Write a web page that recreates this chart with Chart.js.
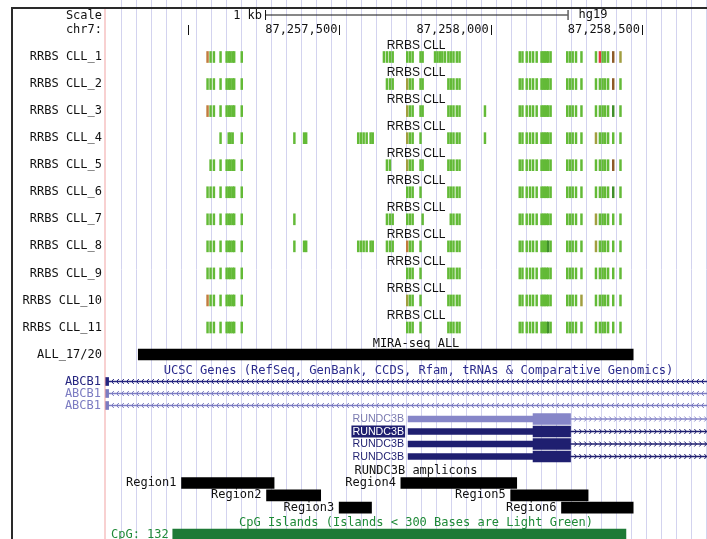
<!DOCTYPE html>
<html>
<head>
<meta charset="utf-8">
<script src="https://cdn.jsdelivr.net/npm/chart.js@4/dist/chart.umd.min.js"></script>
<style>
  html, body { margin: 0; padding: 0; background: #fff; }
  #c { display: block; }
</style>
</head>
<body>
<canvas id="c" width="707" height="539"></canvas>
<script>
// window shown on chr7 (hg19)
const viewStart = 87256725;
const viewEnd = 87258715;
const positionTicks = [87257000, 87257500, 87258000, 87258500];
const positionLabels = ['', '87,257,500', '87,258,000', '87,258,500'];
const scaleBar = [87257254, 87258254];

const sampleNames = ['RRBS CLL_1', 'RRBS CLL_2', 'RRBS CLL_3', 'RRBS CLL_4', 'RRBS CLL_5', 'RRBS CLL_6',
  'RRBS CLL_7', 'RRBS CLL_8', 'RRBS CLL_9', 'RRBS CLL_10', 'RRBS CLL_11'];

// CpG sites covered by RRBS
const cpgSites = [
  87257064, 87257074, 87257085, 87257107, 87257127, 87257134, 87257140, 87257147, 87257152, 87257177,
  87257351, 87257383, 87257390,
  87257562, 87257571, 87257580, 87257590, 87257603, 87257610,
  87257647, 87257657, 87257667, 87257676, 87257724, 87257733, 87257742, 87257768, 87257775,
  87257816, 87257824, 87257832, 87257840, 87257849, 87257860, 87257868, 87257877, 87257888, 87257897, 87257981,
  87258096, 87258105, 87258119, 87258130, 87258140, 87258152, 87258168, 87258174, 87258179, 87258185, 87258190, 87258198,
  87258253, 87258262, 87258271, 87258282, 87258300,
  87258348, 87258361, 87258370, 87258378, 87258388, 87258405, 87258416, 87258429
];

// methylation % per site, null = not covered
const _ = null;
const cll1 = [55,0,0,0,0,0,0,0,0,0, _,_,_, _,_,_,_,_,_,
  0,0,0,0, 0,0,0, 0,0, 0,0,0,0,0, 0,0,0,0,0, _,
  0,0,0,0,0,0,0,0,0,0,0,0, 0,0,0,0,0, 0,100,0,0,0,70,_,45];
const cll2 = [0,0,0,0,0,0,0,0,0,0, _,_,_, _,_,_,_,_,_,
  _,0,0,0, 45,0,0, 0,0, _,_,_,_,_, 0,0,0,0,0, _,
  0,0,0,0,0,0,0,0,0,0,0,0, 0,0,0,0,0, 0,0,0,0,0,75,_,0];
const cll3 = [55,0,0,0,0,0,0,0,0,0, _,_,_, _,_,_,_,_,_,
  _,_,_,_, 45,0,0, 0,0, _,_,_,_,_, 0,0,0,0,0, 0,
  0,0,0,0,0,0,0,0,0,0,0,0, 0,0,0,0,0, 0,0,0,0,0,25,_,0];
const cll4 = [_,_,_,0,_,0,0,0,_,0, 0,0,0, 0,0,0,0,0,0,
  _,_,_,_, 45,0,0, 0,_, _,_,_,_,_, 0,0,0,0,0, 0,
  0,0,0,0,0,0,0,0,0,0,0,0, 0,0,0,0,0, 45,0,0,0,0,0,_,0];
const cll5 = [_,0,0,0,0,0,0,0,0,0, _,_,_, _,_,_,_,_,_,
  _,0,0,_, 45,0,0, 0,0, _,_,_,_,_, 0,0,0,0,0, _,
  0,0,0,0,0,0,0,0,0,0,0,0, 0,0,0,0,0, 0,0,0,0,0,75,_,0];
const cll6 = [0,0,0,0,0,0,0,0,0,0, _,_,_, _,_,_,_,_,_,
  _,_,_,_, 0,0,0, 0,_, _,_,_,_,_, 0,0,0,0,0, _,
  0,0,0,0,0,0,0,0,0,0,0,0, 0,0,0,0,0, 0,0,0,0,0,25,_,0];
const cll7 = [0,0,0,0,0,0,0,0,0,0, 0,_,_, _,_,_,_,_,_,
  _,0,0,0, 0,0,0, _,0, _,_,_,_,_, _,0,0,0,0, _,
  0,0,0,0,0,0,0,0,0,0,0,0, 0,0,0,0,0, 45,0,0,0,0,0,_,0];
const cll8 = [0,0,0,0,0,0,0,0,0,0, 0,0,0, 0,0,0,0,0,0,
  _,0,0,0, 55,0,0, 0,_, _,_,_,_,_, 0,0,0,0,0, _,
  0,0,0,0,0,0,0,0,0,0,25,0, 0,0,0,0,0, 45,0,0,0,0,0,_,0];
const cll9 = [0,0,0,0,0,0,0,0,0,0, _,_,_, _,_,_,_,_,_,
  _,_,_,_, 0,0,0, 0,_, _,_,_,_,_, 0,0,0,0,0, _,
  0,0,0,0,0,0,0,0,0,0,0,0, 0,0,0,0,0, 0,0,0,0,0,0,_,0];
const cll10 = [55,0,0,0,0,0,0,0,0,0, _,_,_, _,_,_,_,_,_,
  _,_,_,_, 45,0,0, 0,_, _,_,_,_,_, 0,0,0,0,0, _,
  0,0,0,0,0,0,0,0,0,0,0,0, 0,0,0,0,45, 0,0,0,0,0,0,_,0];
const cll11 = [0,0,0,0,0,0,0,0,0,0, _,_,_, _,_,_,_,_,_,
  _,_,_,_, 0,0,0, 0,_, _,_,_,_,_, 0,0,0,0,0, _,
  0,0,0,0,0,0,0,0,0,0,25,0, 0,0,0,0,0, 0,0,0,0,0,0,_,0];
const samples = [cll1, cll2, cll3, cll4, cll5, cll6, cll7, cll8, cll9, cll10, cll11];

// MIRA-seq ALL peak
const miraAll = [87256835, 87258471];

// UCSC genes
const abcb1Exon = [87256725, 87256737];
const rundc3bUtr = [87257727, 87258140];
const rundc3bCds = [87258140, 87258264];

// amplicons
const regionNames = ['Region1', 'Region2', 'Region3', 'Region4', 'Region5', 'Region6'];
const regionStarts = [87256978, 87257259, 87257499, 87257703, 87258066, 87258234];
const regionEnds = [87257284, 87257438, 87257606, 87258086, 87258322, 87258471];

const cpgIsland = [87256949, 87258447];

// ---- layout (pixel rows of the tracks) ----
const sampleY = sampleNames.map((n, i) => 57 + 27.05 * i);
const allY = 354.5;
const abcb1Y = [381.5, 393.5, 405.5];
const abcb1Col = ['#262680', '#7c7cc2', '#7c7cc2'];
const rundY = [419, 431.5, 444, 456.5];
const rundCol = ['#8686c8', '#1f1f70', '#1f1f70', '#1f1f70'];
const regionY = [483, 495.3, 507.6, 483, 495.3, 507.6];
const cpgY = 534.5;
const gridTicks = [];
for (let v = 87256780; v < viewEnd; v += 49.6) gridTicks.push(v);

function methColor(v) {
  if (v < 10) return '#63ba37';
  if (v < 30) return '#3f8e2b';
  if (v < 50) return '#a19e40';
  if (v < 65) return '#c27b3e';
  if (v < 85) return '#8d5a28';
  return '#e8363e';
}

const datasets = [];
samples.forEach((vals, i) => {
  const idx = vals.map((v, k) => k).filter(k => vals[k] !== null);
  datasets.push({
    data: idx.map(k => ({ x: [cpgSites[k] - 3, cpgSites[k] + 3], y: sampleY[i] })),
    backgroundColor: idx.map(k => methColor(vals[k])),
    barThickness: 11
  });
});
datasets.push({ data: [{ x: miraAll, y: allY }], backgroundColor: '#000', barThickness: 11 });
abcb1Y.forEach((y, i) => {
  datasets.push({ data: [{ x: [viewStart - 50, viewEnd + 50], y }], backgroundColor: abcb1Col[i], barThickness: 1 });
  datasets.push({ data: [{ x: abcb1Exon, y }], backgroundColor: abcb1Col[i], barThickness: 8 });
});
rundY.forEach((y, i) => {
  datasets.push({ data: [{ x: [rundc3bCds[1], viewEnd + 50], y }], backgroundColor: rundCol[i], barThickness: 1 });
  datasets.push({ data: [{ x: rundc3bUtr, y }], backgroundColor: rundCol[i], barThickness: 6 });
  datasets.push({ data: [{ x: rundc3bCds, y }], backgroundColor: rundCol[i], barThickness: 11 });
});
datasets.push({
  data: regionNames.map((n, i) => ({ x: [regionStarts[i], regionEnds[i]], y: regionY[i] })),
  backgroundColor: '#000', barThickness: 11
});
datasets.push({ data: [{ x: cpgIsland, y: cpgY }], backgroundColor: '#1d7a36', barThickness: 11 });
datasets.forEach(d => { d.grouped = false; d.borderWidth = 0; });

const MONO = '12px "DejaVu Sans Mono"';
const SANS = '12px "Liberation Sans"';

const trackText = {
  id: 'trackText',
  afterDraw(chart) {
    const ctx = chart.ctx;
    const xs = chart.scales.x;
    const px = v => xs.getPixelForValue(v);
    const area = chart.chartArea;
    ctx.save();
    ctx.textBaseline = 'middle';
    const text = (s, x, y, align, font, color) => {
      ctx.font = font; ctx.textAlign = align; ctx.fillStyle = color; ctx.fillText(s, x, y);
    };

    // frame + left separator
    ctx.fillStyle = '#2a2a2a';
    ctx.fillRect(12, 7, 707 - 12, 2);
    ctx.fillRect(11, 7, 2, 539);
    ctx.fillStyle = '#f2a3a3';
    ctx.fillRect(area.left - 0.5, 9, 1, 539);

    // scale row
    text('Scale', 102, 16, 'right', MONO, '#111');
    text('1 kb', px(scaleBar[0]) - 3, 16, 'right', MONO, '#111');
    text('hg19', px(scaleBar[1]) + 11, 15, 'left', MONO, '#111');
    ctx.fillStyle = '#111';
    ctx.fillRect(px(scaleBar[0]), 14.5, px(scaleBar[1]) - px(scaleBar[0]), 1);
    ctx.fillRect(px(scaleBar[0]), 10, 1, 10);
    ctx.fillRect(px(scaleBar[1]), 10, 1, 10);

    // chromosome position row
    text('chr7:', 102, 30, 'right', MONO, '#111');
    positionTicks.forEach((t, i) => {
      ctx.fillStyle = '#111';
      ctx.fillRect(Math.round(px(t)), 25, 1, 10);
      if (positionLabels[i]) text(positionLabels[i], px(t) - 2, 30, 'right', MONO, '#111');
    });

    // sample labels
    sampleNames.forEach((n, i) => {
      text(n, 102, sampleY[i], 'right', MONO, '#111');
      text('RRBS CLL', 416, sampleY[i] - 11.5, 'center', SANS, '#111');
    });

    text('MIRA-seq ALL', 416, 343.5, 'center', MONO, '#111');
    text('ALL_17/20', 102, allY, 'right', MONO, '#111');
    text('UCSC Genes (RefSeq, GenBank, CCDS, Rfam, tRNAs & Comparative Genomics)', 418.5, 371, 'center',
      '12.1px "DejaVu Sans Mono"', '#2b2b8c');

    // gene strand chevrons
    const chevrons = (x0, x1, y, dir, color) => {
      ctx.strokeStyle = color; ctx.lineWidth = 1;
      ctx.beginPath();
      for (let x = x0; x < x1; x += 5) {
        ctx.moveTo(x - dir * 2.2, y - 2.5);
        ctx.lineTo(x, y);
        ctx.lineTo(x - dir * 2.2, y + 2.5);
      }
      ctx.stroke();
    };
    abcb1Y.forEach((y, i) => {
      text('ABCB1', 101, y, 'right', MONO, abcb1Col[i]);
      chevrons(px(abcb1Exon[1]) + 3, area.right, y, -1, abcb1Col[i]);
    });
    rundY.forEach((y, i) => {
      const lx = px(rundc3bUtr[0]) - 4;
      if (i === 1) {
        ctx.font = '10.7px "Liberation Sans"';
        const w = ctx.measureText('RUNDC3B').width;
        ctx.fillStyle = '#1f1f70';
        ctx.fillRect(lx - w - 1, y - 6, w + 2, 12);
        text('RUNDC3B', lx, y + 0.5, 'right', '10.7px "Liberation Sans"', '#fff');
      } else {
        text('RUNDC3B', lx, y + 0.5, 'right', '10.7px "Liberation Sans"', i === 0 ? '#7a7ab0' : '#1f1f70');
      }
      chevrons(px(rundc3bCds[1]) + 6, area.right, y, 1, rundCol[i]);
    });

    text('RUNDC3B amplicons', 416, 471, 'center', MONO, '#111');
    regionNames.forEach((n, i) => text(n, px(regionStarts[i]) - 5, regionY[i], 'right', MONO, '#111'));

    text('CpG Islands (Islands < 300 Bases are Light Green)', 416, 523, 'center', MONO, '#1f8a38');
    text('CpG: 132', px(cpgIsland[0]) - 4, cpgY, 'right', MONO, '#1f8a38');
    ctx.restore();
  }
};

new Chart(document.getElementById('c'), {
  type: 'bar',
  data: { datasets },
  options: {
    indexAxis: 'y',
    responsive: false,
    animation: false,
    devicePixelRatio: 1,
    layout: { padding: { left: 105, right: 0, top: 0, bottom: 0 } },
    plugins: { legend: { display: false }, tooltip: { enabled: false } },
    scales: {
      x: {
        type: 'linear', position: 'top', min: viewStart, max: viewEnd,
        afterBuildTicks: s => { s.ticks = gridTicks.map(v => ({ value: v })); },
        ticks: { display: false },
        grid: { color: '#d3d3ef', drawTicks: false, lineWidth: 1 },
        border: { display: false }
      },
      y: { type: 'linear', min: 0, max: 539, reverse: true, offset: false, display: false }
    }
  },
  plugins: [trackText]
});
</script>
</body>
</html>
